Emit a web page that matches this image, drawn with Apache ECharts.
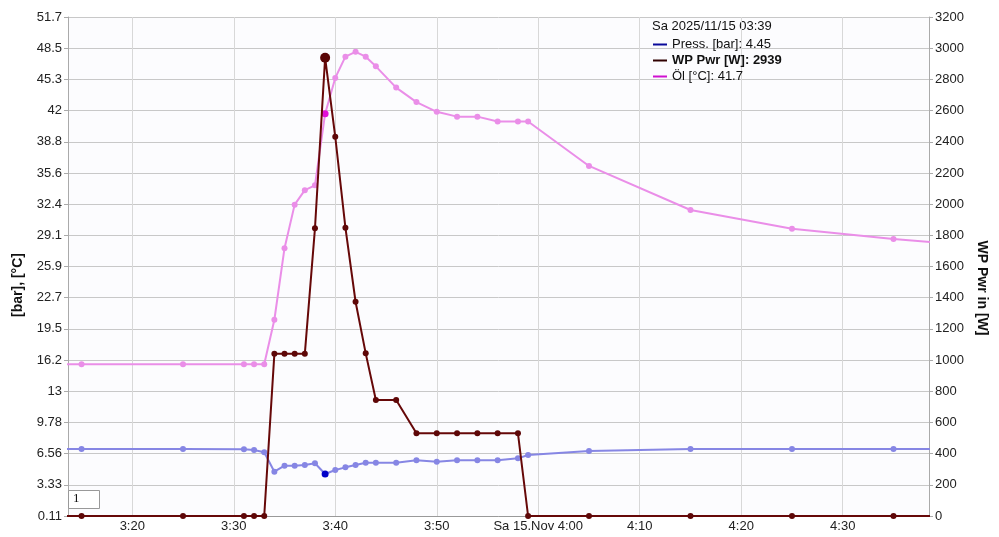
<!DOCTYPE html>
<html>
<head>
<meta charset="utf-8">
<script src="https://cdn.jsdelivr.net/npm/echarts@6/dist/echarts.min.js"></script>
<style>
html,body{margin:0;padding:0;background:#fff;}
#chart{width:999px;height:537px;}
</style>
</head>
<body>
<div id="chart"></div>
<script>
// ---- data ----
var times = ['03:05','03:15','03:25','03:31','03:32','03:33','03:34','03:35','03:36','03:37','03:38','03:39','03:40','03:41','03:42','03:43','03:44','03:46','03:48','03:50','03:52','03:54','03:56','03:58','03:59','04:05','04:15','04:25','04:35','04:45'];
var pressBar = [7.04,7.04,7.04,7.0,6.93,6.7,4.69,5.31,5.31,5.38,5.56,4.45,4.87,5.14,5.38,5.62,5.62,5.62,5.87,5.72,5.87,5.87,5.87,6.07,6.42,6.83,7.04,7.04,7.04,7.04];
var wpPwr = [0,0,0,0,0,0,1040,1040,1040,1040,1845,2939,2432,1849,1374,1043,744,744,530,530,530,530,530,530,0,0,0,0,0,0];
var oilC = [15.8,15.8,15.8,15.8,15.8,15.8,20.4,27.8,32.3,33.8,34.3,41.7,45.4,47.6,48.1,47.6,46.6,44.4,42.9,41.9,41.4,41.4,40.9,40.9,40.9,36.3,31.75,29.8,28.75,27.9];
var xTickTimes = ['03:20','03:30','03:40','03:50','04:00','04:10','04:20','04:30'];
var xTickLabels = ['3:20','3:30','3:40','3:50','Sa 15.Nov 4:00','4:10','4:20','4:30'];
var leftTickLabels = ['0.11','3.33','6.56','9.78','13','16.2','19.5','22.7','25.9','29.1','32.4','35.6','38.8','42','45.3','48.5','51.7'];
var rightTicks = [0,200,400,600,800,1000,1200,1400,1600,1800,2000,2200,2400,2600,2800,3000,3200];
var cursorTime = '03:39';
var headerText = 'Sa 2025/11/15 03:39';
var seriesNames = ['Press. [bar]','WP Pwr [W]','Öl [°C]'];
var leftAxisName = '[bar], [°C]';
var rightAxisName = 'WP Pwr in [W]';
var xStart = '03:13:40', xEnd = '04:38:30';

// minutes since midnight
function ts(s){
  var p = s.split(':');
  return (+p[0])*60 + (+p[1]) + (p[2] ? (+p[2])/60 : 0);
}
var leftMin = parseFloat(leftTickLabels[0]), leftMax = parseFloat(leftTickLabels[leftTickLabels.length-1]);
var leftTickVals = leftTickLabels.map(function(_,i){ return leftMin + i*(leftMax-leftMin)/(leftTickLabels.length-1); });
var xTickVals = xTickTimes.map(ts);

function nearestLabel(vals, labels, v){
  var best=0,bd=Infinity;
  vals.forEach(function(t,i){var d=Math.abs(t-v); if(d<bd){bd=d;best=i;}});
  return labels[best];
}

function build(vals, hiColor, hiSize){
  return times.map(function(t,i){
    var item = {value:[ts(t), vals[i]]};
    if (t === cursorTime) { item.itemStyle = {color:hiColor}; item.symbolSize = hiSize; }
    return item;
  });
}
var pressData = build(pressBar,'#0000c8',7);
var pwrData = build(wpPwr,'#5a0606',10);
var oilData = build(oilC,'#e010d8',7);

var ci = times.indexOf(cursorTime);
var legendVals = {};
legendVals[seriesNames[0]] = pressBar[ci];
legendVals[seriesNames[1]] = wpPwr[ci];
legendVals[seriesNames[2]] = oilC[ci];

var FONT = 'Liberation Sans, Arial, sans-serif';
var chart = echarts.init(document.getElementById('chart'), null, {renderer:'canvas'});
chart.setOption({
  animation:false,
  backgroundColor:'#ffffff',
  textStyle:{fontFamily:FONT},
  grid:{left:68,right:70,top:17,bottom:21,show:true,backgroundColor:'#fcfcfe',borderWidth:0},
  xAxis:{
    type:'value', min:ts(xStart), max:ts(xEnd),
    axisLine:{lineStyle:{color:'#999',width:1}},
    axisTick:{show:false, customValues:xTickVals},
    splitLine:{show:true,lineStyle:{color:'#d8d8d8',width:1}},
    axisLabel:{
      color:'#222',fontSize:13,fontFamily:FONT,margin:4,customValues:xTickVals,
      formatter:function(v){ return nearestLabel(xTickVals, xTickLabels, v); }
    }
  },
  yAxis:[{
    type:'value', position:'left', min:leftMin, max:leftMax,
    axisLine:{show:true,lineStyle:{color:'#aaa'}},
    axisTick:{show:true,length:4,lineStyle:{color:'#aaa'},customValues:leftTickVals},
    splitLine:{show:false},
    axisLabel:{color:'#222',fontSize:13,fontFamily:FONT,margin:6,customValues:leftTickVals,
      formatter:function(v){ return nearestLabel(leftTickVals, leftTickLabels, v); }}
  },{
    type:'value', position:'right', min:rightTicks[0], max:rightTicks[rightTicks.length-1], interval:rightTicks[1]-rightTicks[0],
    axisLine:{show:true,lineStyle:{color:'#aaa'}},
    axisTick:{show:true,length:4,lineStyle:{color:'#aaa'}},
    splitLine:{show:true,lineStyle:{color:'#c8c8c8',width:1}},
    axisLabel:{color:'#222',fontSize:13,fontFamily:FONT,margin:6,formatter:function(v){return String(v);}}
  }],
  legend:{
    orient:'vertical', left:648, top:33, itemWidth:14, itemHeight:2, itemGap:3,
    icon:'rect', selectedMode:false,
    data:[
      {name:seriesNames[0], itemStyle:{color:'#0a0a9a'}},
      {name:seriesNames[1], itemStyle:{color:'#300000'}},
      {name:seriesNames[2], itemStyle:{color:'#d010d0'}}
    ],
    textStyle:{fontSize:12.5,color:'#111',fontFamily:FONT,
      rich:{b:{fontWeight:'bold',fontSize:13,color:'#111',fontFamily:FONT},n:{fontSize:13,color:'#111',fontFamily:FONT}}},
    formatter:function(name){
      var s = name + ': ' + legendVals[name];
      return name === seriesNames[1] ? '{b|'+s+'}' : '{n|'+s+'}';
    }
  },
  graphic:[
    {type:'text', left:652, top:20, style:{text:headerText, fontSize:13, fill:'#111', fontFamily:FONT}},
    {type:'text', x:18, y:285, rotation:Math.PI/2, style:{text:leftAxisName, fontSize:14, fontWeight:'bold', fill:'#111', fontFamily:FONT, align:'center', verticalAlign:'middle'}},
    {type:'text', x:982, y:288, rotation:-Math.PI/2, style:{text:rightAxisName, fontSize:14, fontWeight:'bold', fill:'#111', fontFamily:FONT, align:'center', verticalAlign:'middle'}},
    {type:'rect', shape:{x:68.5,y:490.5,width:31,height:18}, style:{fill:'#fff',stroke:'#999',lineWidth:1}, z:100},
    {type:'text', left:73, top:492, style:{text:'1', fontSize:13, fill:'#111', fontFamily:'Liberation Serif, serif'}, z:101}
  ],
  series:[
    {name:seriesNames[0], type:'line', yAxisIndex:0, data:pressData, symbol:'circle', symbolSize:6, showSymbol:true,
      lineStyle:{color:'#8686e4',width:2}, itemStyle:{color:'#8686e4'}, z:3},
    {name:seriesNames[2], type:'line', yAxisIndex:0, data:oilData, symbol:'circle', symbolSize:6, showSymbol:true,
      lineStyle:{color:'#ea8ee8',width:2}, itemStyle:{color:'#ea8ee8'}, z:3},
    {name:seriesNames[1], type:'line', yAxisIndex:1, data:pwrData, symbol:'circle', symbolSize:6, showSymbol:true,
      lineStyle:{color:'#660808',width:2}, itemStyle:{color:'#5e0707'}, z:4}
  ]
});
</script>
</body>
</html>
